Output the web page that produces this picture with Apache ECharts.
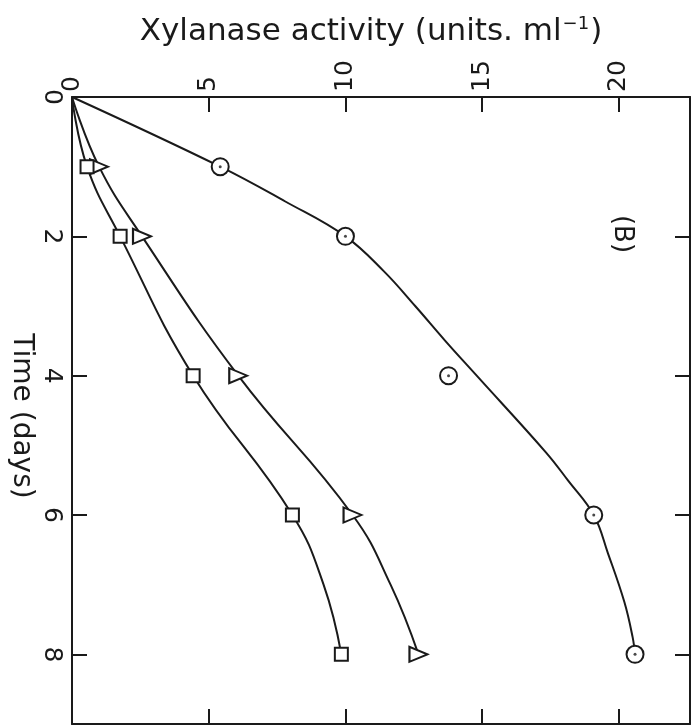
<!DOCTYPE html>
<html>
<head>
<meta charset="utf-8">
<script src="https://cdn.jsdelivr.net/npm/echarts@6/dist/echarts.min.js"></script>
<style>
  html, body { margin: 0; padding: 0; background: #fff; }
  #chart { width: 692px; height: 728px; }
</style>
</head>
<body>
<div id="chart"></div>
<script>
// Measured xylanase activity (units/ml) over time (days) for three cultures
const days = [1, 2, 4, 6, 8];
const circleActivity = [5.42, 10.0, 13.77, 19.08, 20.59];
const triangleActivity = [0.99, 2.56, 6.08, 10.26, 12.67];
const squareActivity = [0.55, 1.76, 4.43, 8.06, 9.85];

// Hand-drawn trend curves (all start at the origin)
const circleCurveDays = [0, 1, 1.5, 2, 2.5, 3, 3.5, 4, 5.1, 5.5, 6, 6.55, 7.25, 7.75, 8];
const circleCurve = [0, 5.42, 7.8, 10.0, 11.4, 12.55, 13.65, 14.8, 17.33, 18.13, 19.08, 19.6, 20.2, 20.5, 20.59];
const triangleCurveDays = [0, 1, 2, 4, 6, 7, 8];
const triangleCurve = [0, 0.99, 2.56, 6.08, 10.26, 11.65, 12.67];
const squareCurveDays = [0, 1, 2, 4, 6, 7, 8];
const squareCurve = [0, 0.55, 1.76, 4.43, 8.06, 9.2, 9.85];

const activityTicks = [0, 5, 10, 15, 20];
const dayTicks = [0, 2, 4, 6, 8];

const INK = '#1a1a1a';
const FONT = 'DejaVu Sans';

function zip(xs, ts) {
  return xs.map((v, i) => [v, ts[i]]);
}

function trend(values, ts, smooth) {
  return {
    type: 'line',
    data: zip(values, ts),
    smooth: smooth,
    showSymbol: false,
    symbol: 'none',
    lineStyle: { color: INK, width: 2 },
    z: 3
  };
}

function markers(values, symbol, size, rotate) {
  return {
    type: 'scatter',
    data: zip(values, days),
    symbol: symbol,
    symbolSize: size,
    symbolRotate: rotate || 0,
    itemStyle: { color: '#fff', borderColor: INK, borderWidth: 2, opacity: 1 },
    z: 5
  };
}

const chart = echarts.init(document.getElementById('chart'));

const axisLine = { show: true, onZero: false, lineStyle: { color: INK, width: 2 } };
const tickStyle = { show: true, inside: true, length: 15, lineStyle: { color: INK, width: 2 } };

chart.setOption({
  backgroundColor: '#fff',
  animation: false,
  title: {
    text: '{a|Xylanase activity (units. ml}{s|−1}{a|)}',
    left: 366,
    top: 10,
    textAlign: 'center',
    textStyle: {
      rich: {
        a: { fontFamily: FONT, fontSize: 31, fontWeight: 'normal', color: INK },
        s: { fontFamily: FONT, fontSize: 18, fontWeight: 'normal', color: INK, verticalAlign: 'top', padding: [0, 1, 15, 1] }
      }
    }
  },
  graphic: [{
    type: 'text',
    x: 21,
    y: 416,
    rotation: -Math.PI / 2,
    style: {
      text: 'Time (days)',
      font: '28px ' + FONT,
      fill: INK,
      align: 'center',
      verticalAlign: 'middle'
    }
  }, {
    type: 'text',
    x: 622,
    y: 234,
    rotation: -Math.PI / 2,
    style: {
      text: '(B)',
      font: '26px ' + FONT,
      fill: INK,
      align: 'center',
      verticalAlign: 'middle'
    }
  }],
  grid: { left: 72, top: 97, right: 2, bottom: 4, containLabel: false },
  xAxis: [{
    type: 'value',
    position: 'top',
    min: 0,
    max: 22.6,
    interval: 5,
    axisLine: axisLine,
    axisTick: Object.assign({}, tickStyle, { customValues: activityTicks }),
    axisLabel: {
      customValues: activityTicks,
      rotate: -90,
      margin: 5,
      fontFamily: FONT,
      fontSize: 25,
      color: INK
    },
    splitLine: { show: false }
  }, {
    type: 'value',
    position: 'bottom',
    min: 0,
    max: 22.6,
    interval: 5,
    axisLine: axisLine,
    axisTick: Object.assign({}, tickStyle, { customValues: activityTicks }),
    axisLabel: { show: false },
    splitLine: { show: false }
  }],
  yAxis: [{
    type: 'value',
    inverse: true,
    position: 'left',
    min: 0,
    max: 9,
    interval: 2,
    axisLine: axisLine,
    axisTick: Object.assign({}, tickStyle, { customValues: dayTicks }),
    axisLabel: {
      customValues: dayTicks,
      rotate: -90,
      margin: 8,
      fontFamily: FONT,
      fontSize: 25,
      color: INK
    },
    splitLine: { show: false }
  }, {
    type: 'value',
    inverse: true,
    position: 'right',
    min: 0,
    max: 9,
    interval: 2,
    axisLine: axisLine,
    axisTick: Object.assign({}, tickStyle, { customValues: dayTicks }),
    axisLabel: { show: false },
    splitLine: { show: false }
  }],
  series: [
    trend(circleCurve, circleCurveDays, 0.4),
    trend(triangleCurve, triangleCurveDays, 0.45),
    trend(squareCurve, squareCurveDays, 0.45),
    markers(circleActivity, 'circle', 17),
    markers(triangleActivity, 'triangle', [15, 18], -90),
    markers(squareActivity, 'rect', 13),
    {
      // centre dots of the circle markers
      type: 'scatter',
      data: zip(circleActivity, days),
      symbol: 'circle',
      symbolSize: 3,
      itemStyle: { color: INK },
      z: 6
    }
  ]
});
</script>
</body>
</html>
